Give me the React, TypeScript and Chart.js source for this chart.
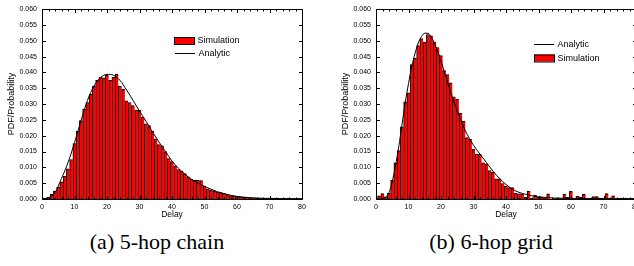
import React, { useEffect, useRef } from "react";
import { Chart, registerables } from "chart.js";

Chart.register(...registerables);

// ---- Data ----
const BINS = [
  0, 1, 2, 3, 4, 5, 6, 7, 8, 9, 10, 11, 12, 13, 14, 15, 16, 17, 18, 19,
  20, 21, 22, 23, 24, 25, 26, 27, 28, 29, 30, 31, 32, 33, 34, 35, 36, 37, 38, 39,
  40, 41, 42, 43, 44, 45, 46, 47, 48, 49, 50, 51, 52, 53, 54, 55, 56, 57, 58, 59,
  60, 61, 62, 63, 64, 65, 66, 67, 68, 69, 70, 71, 72, 73, 74, 75, 76, 77, 78, 79,
];

const SIM_A = [
  0.0002, 0.0003, 0.0005, 0.0015, 0.0025, 0.0038, 0.0054, 0.0072, 0.0095, 0.0125,
  0.0175, 0.0215, 0.0248, 0.0284, 0.0305, 0.0331, 0.0357, 0.0375, 0.0385, 0.0383,
  0.0392, 0.0375, 0.0385, 0.0394, 0.0357, 0.0347, 0.0310, 0.0305, 0.0295, 0.0280,
  0.0281, 0.0258, 0.0238, 0.0232, 0.0215, 0.0190, 0.0172, 0.0168, 0.0150, 0.0128,
  0.0118, 0.0105, 0.0093, 0.0088, 0.0080, 0.0070, 0.0062, 0.0059, 0.0059, 0.0058,
  0.0040, 0.0032, 0.0028, 0.0024, 0.0022, 0.0020, 0.0018, 0.0014, 0.0011, 0.0010,
  0.0008, 0.0007, 0.0005, 0.0005, 0.0004, 0.0004, 0.0003, 0.0003, 0.0003, 0.0002,
  0.0002, 0.0002, 0.0001, 0.0002, 0.0001, 0.0001, 0.0002, 0.0001, 0.0001, 0.0001,
];

const CURVE_A_X = [
  0, 2, 4, 6, 8, 10, 12, 14, 16, 18, 20, 22, 24, 26, 28, 30, 32, 34, 36, 38, 40,
  42, 44, 46, 48, 50, 52, 54, 56, 58, 60, 62, 64, 66, 68, 70, 72, 74, 76, 78, 80,
];
const CURVE_A_Y = [
  0.0, 0.0004, 0.002, 0.0065, 0.0115, 0.0178, 0.0248, 0.0312, 0.0357, 0.0384, 0.0394,
  0.0391, 0.0375, 0.0345, 0.0312, 0.0278, 0.0246, 0.0212, 0.018, 0.015, 0.012,
  0.0097, 0.0078, 0.0062, 0.005, 0.004, 0.0031, 0.0023, 0.0017, 0.0012, 0.0008,
  0.0006, 0.0004, 0.0003, 0.0002, 0.0002, 0.0001, 0.0001, 0.0001, 0.0001, 0.0001,
];

const SIM_B = [
  0.0005, 0.001, 0.0017, 0.0007, 0.0019, 0.0059, 0.0114, 0.0153, 0.0228, 0.0307,
  0.0336, 0.0425, 0.0445, 0.0485, 0.0507, 0.0495, 0.052, 0.0516, 0.0496, 0.0479,
  0.0453, 0.0406, 0.0393, 0.0367, 0.0323, 0.0316, 0.0272, 0.0246, 0.0194, 0.0189,
  0.0158, 0.0142, 0.0141, 0.0114, 0.0111, 0.009, 0.0085, 0.0064, 0.0064, 0.0049,
  0.0041, 0.0036, 0.0036, 0.0018, 0.0016, 0.0016, 0.0005, 0.0025, 0.0002, 0.0012,
  0.0005, 0.0005, 0.0002, 0.0016, 0.0, 0.0001, 0.0002, 0.0001, 0.0015, 0.0005,
  0.0024, 0.0, 0.0009, 0.0005, 0.0015, 0.0002, 0.0001, 0.0008, 0.0008, 0.0002,
  0.0002, 0.0017, 0.0001, 0.001, 0.0, 0.0002, 0.0003, 0.0003, 0.0001, 0.0001,
];

const CURVE_B_X = [
  0, 1, 2, 3, 4, 5, 6, 7, 8, 9, 10, 11, 12, 13, 14, 15, 16, 17, 18, 19, 20,
  22, 24, 26, 28, 30, 32, 34, 36, 38, 40, 42, 44, 46, 48, 50, 55, 60, 65, 70, 75, 80,
];
const CURVE_B_Y = [
  0.0, 0.0, 0.0001, 0.0006, 0.002, 0.0055, 0.0105, 0.0165, 0.0235, 0.0305, 0.0365,
  0.0418, 0.046, 0.0493, 0.0514, 0.0524, 0.0524, 0.0512, 0.0492, 0.0466, 0.0436,
  0.037, 0.0307, 0.0252, 0.0205, 0.017, 0.0142, 0.0115, 0.0088, 0.0065, 0.0046,
  0.0031, 0.0021, 0.0015, 0.001, 0.0007, 0.0003, 0.0002, 0.0001, 0.0001, 0.0001, 0.0001,
];

const X_MIN = 0;
const X_MAX = 80;
const X_STEP = 10;
const X_MINOR_STEP = 2;
const Y_MIN = 0;
const Y_MAX = 0.06;
const Y_STEP = 0.005;

const FONT = '"Liberation Sans", Arial, sans-serif';

// ---- Plugins ----
const framePlugin = {
  id: "frame",
  afterDatasetsDraw(chart: any) {
    const { ctx, chartArea, scales } = chart;
    const { left, right, top, bottom } = chartArea;
    const L = Math.round(left) + 0.5;
    const R = Math.round(right) + 0.5;
    const T = Math.round(top) + 0.5;
    const B = Math.round(bottom) + 0.5;
    ctx.save();
    ctx.strokeStyle = "#000";
    ctx.lineWidth = 1;
    ctx.beginPath();
    ctx.rect(L, T, R - L, B - T);
    // x ticks (major and minor), inward, top and bottom
    for (let v = X_MIN; v <= X_MAX + 1e-9; v += X_MINOR_STEP) {
      const px = Math.round(scales.x.getPixelForValue(v)) + 0.5;
      const major = Math.abs(v / X_STEP - Math.round(v / X_STEP)) < 1e-6;
      const len = major ? 3.5 : 2;
      ctx.moveTo(px, B);
      ctx.lineTo(px, B - len);
      ctx.moveTo(px, T);
      ctx.lineTo(px, T + len);
    }
    // y ticks, inward, left and right
    scales.y.ticks.forEach((t: any) => {
      const py = Math.round(scales.y.getPixelForValue(t.value)) + 0.5;
      ctx.moveTo(L, py);
      ctx.lineTo(L + 3.5, py);
      ctx.moveTo(R, py);
      ctx.lineTo(R - 3.5, py);
    });
    ctx.stroke();
    ctx.restore();
  },
};

const legendPlugin = {
  id: "customLegend",
  afterDraw(chart: any, _args: any, opts: any) {
    const items = (opts && opts.items) || [];
    const { ctx } = chart;
    ctx.save();
    ctx.font = `9px ${FONT}`;
    ctx.textBaseline = "middle";
    ctx.fillStyle = "#000";
    items.forEach((it: any) => {
      if (it.kind === "box") {
        ctx.fillStyle = "#ff0000";
        ctx.fillRect(it.x, it.y - 3.5, 21, 7);
        ctx.strokeStyle = "#000";
        ctx.lineWidth = 1;
        ctx.strokeRect(it.x + 0.5, it.y - 3.5 + 0.5, 20, 7);
      } else {
        ctx.strokeStyle = "#000";
        ctx.lineWidth = 1;
        ctx.beginPath();
        ctx.moveTo(it.x, Math.round(it.y) + 0.5);
        ctx.lineTo(it.x + 20, Math.round(it.y) + 0.5);
        ctx.stroke();
      }
      ctx.fillStyle = "#000";
      ctx.fillText(it.label, it.x + 23.5, it.y + 0.5);
    });
    ctx.restore();
  },
};

function makeConfig(sim: number[], cx: number[], cy: number[], legendItems: any[]): any {
  return {
    type: "bar",
    data: {
      datasets: [
        {
          type: "line",
          label: "Analytic",
          data: cx.map((x, i) => ({ x, y: cy[i] })),
          borderColor: "#000",
          borderWidth: 1,
          pointRadius: 0,
          fill: false,
          tension: 0.4,
          cubicInterpolationMode: "monotone",
          order: 0,
        },
        {
          type: "bar",
          label: "Simulation",
          data: BINS.map((x, i) => ({ x, y: sim[i] })),
          backgroundColor: "#ff0000",
          borderColor: "#000",
          borderWidth: { left: 1, top: 1, right: 0, bottom: 0 },
          borderSkipped: false,
          categoryPercentage: 1,
          barPercentage: 1,
          order: 1,
        },
      ],
    },
    options: {
      animation: false,
      responsive: false,
      maintainAspectRatio: false,
      layout: { padding: { top: 6, right: 13, left: 0, bottom: 0 } },
      plugins: {
        legend: { display: false },
        tooltip: { enabled: false },
        customLegend: { items: legendItems },
      },
      scales: {
        x: {
          type: "linear",
          min: X_MIN,
          max: X_MAX,
          offset: false,
          grid: { display: false, drawTicks: false },
          border: { display: false },
          ticks: {
            stepSize: X_STEP,
            padding: 4,
            autoSkip: false,
            maxRotation: 0,
            color: "#000",
            font: { family: FONT, size: 7 },
          },
          title: {
            display: true,
            text: "Delay",
            color: "#000",
            font: { family: FONT, size: 8.5 },
            padding: { top: 0, bottom: 2 },
          },
          afterFit(s: any) {
            s.height = 23;
          },
        },
        y: {
          type: "linear",
          min: Y_MIN,
          max: Y_MAX,
          grid: { display: false, drawTicks: false },
          border: { display: false },
          ticks: {
            stepSize: Y_STEP,
            padding: 5,
            color: "#000",
            font: { family: FONT, size: 7 },
            callback: (v: any) => Number(v).toFixed(3),
          },
          title: {
            display: true,
            text: "PDF/Probability",
            color: "#000",
            font: { family: FONT, size: 9 },
            padding: { top: 6, bottom: 0 },
          },
          afterFit(s: any) {
            s.width = 42;
          },
        },
      },
    },
    plugins: [framePlugin, legendPlugin],
  };
}

function ChartCanvas(props: { config: any; left: number }) {
  const ref = useRef<HTMLCanvasElement | null>(null);
  useEffect(() => {
    if (!ref.current) return;
    const chart = new Chart(ref.current, props.config);
    return () => chart.destroy();
  }, []);
  return (
    <canvas
      ref={ref}
      width={315}
      height={222}
      style={{ position: "absolute", left: props.left, top: 0, width: 315, height: 222 }}
    />
  );
}

const captionStyle: React.CSSProperties = {
  position: "absolute",
  top: 231,
  width: 200,
  textAlign: "center",
  fontFamily: '"Liberation Serif", "Times New Roman", serif',
  fontSize: 22,
  lineHeight: "22px",
  color: "#000",
  whiteSpace: "nowrap",
};

export default function App() {
  const cfgA = makeConfig(SIM_A, CURVE_A_X, CURVE_A_Y, [
    { kind: "box", label: "Simulation", x: 174, y: 40.5 },
    { kind: "line", label: "Analytic", x: 175, y: 53 },
  ]);
  const cfgB = makeConfig(SIM_B, CURVE_B_X, CURVE_B_Y, [
    { kind: "line", label: "Analytic", x: 200, y: 44 },
    { kind: "box", label: "Simulation", x: 200, y: 58 },
  ]);
  return (
    <div
      style={{
        position: "fixed",
        left: 0,
        top: 0,
        width: 634,
        height: 266,
        overflow: "hidden",
        background: "#fff",
      }}
    >
      <ChartCanvas config={cfgA} left={0} />
      <ChartCanvas config={cfgB} left={334} />
      <div style={{ ...captionStyle, left: 57 }}>(a) 5-hop chain</div>
      <div style={{ ...captionStyle, left: 391 }}>(b) 6-hop grid</div>
    </div>
  );
}
